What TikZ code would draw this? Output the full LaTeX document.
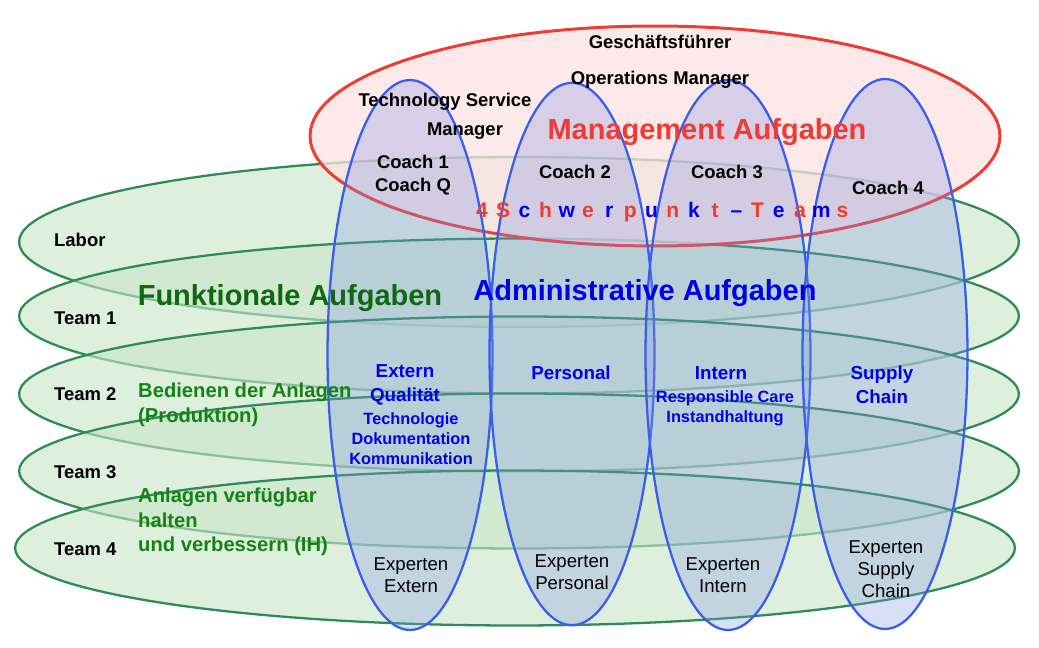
\documentclass[tikz,border=0pt]{standalone}
\usepackage{fontspec}
\setmainfont{Liberation Sans}
\usetikzlibrary{shapes.geometric}
\definecolor{teamgreen}{RGB}{46,139,87}
\definecolor{teamfill}{RGB}{200,228,200}
\definecolor{mgmtred}{RGB}{238,60,50}
\definecolor{mgmtfill}{RGB}{253,225,225}
\definecolor{focusblue}{RGB}{55,95,235}
\definecolor{focusfill}{RGB}{130,150,230}
\definecolor{textgreen}{RGB}{20,130,20}
\definecolor{textblue}{RGB}{0,0,235}
\tikzset{
  team/.style={ellipse, draw=teamgreen, line width=1.3pt, fill=teamfill, fill opacity=0.6, minimum width=20cm, minimum height=3.1cm},
  mgmt/.style={ellipse, draw=mgmtred, line width=1.7pt, fill=mgmtfill, fill opacity=0.75, minimum width=13.8cm, minimum height=4.4cm},
  focus/.style={ellipse, draw=focusblue, line width=1.3pt, fill=focusfill, fill opacity=0.3, minimum width=3.3cm, minimum height=11cm},
  lbl/.style={font=\bfseries\fontsize{10.5}{12}\selectfont, align=center},
  side/.style={font=\bfseries\fontsize{10.5}{12}\selectfont, anchor=west},
  sub/.style={font=\bfseries\fontsize{11.5}{14}\selectfont, text=textgreen, anchor=west, align=left},
  task/.style={font=\bfseries\fontsize{10.7}{13.5}\selectfont, text=textblue, align=center},
  small/.style={font=\bfseries\fontsize{9.3}{11.3}\selectfont, text=textblue, align=center},
  expert/.style={font=\fontsize{10.6}{12.7}\selectfont, align=center},
  big/.style={font=\bfseries\fontsize{16.5}{18}\selectfont}
}
\begin{document}
\begin{tikzpicture}[x=0.02cm, y=-0.02cm]
\useasboundingbox (0,0) rectangle (1039,648);
% team layers
\node (labor) [team, minimum height=3.4cm] at (519,242) {};
\node (team1) [team] at (519,316) {};
\node (team2) [team] at (519,394) {};
\node (team3) [team] at (519,471) {};
\node (team4) [team] at (515,548) {};
% management
\node (mgmt) [mgmt] at (655,136) {};
% focus teams
\node (focus1) [focus] at (410,355) {};
\node (focus2) [focus, minimum height=10.85cm] at (572,354) {};
\node (focus3) [focus] at (728,355) {};
\node (focus4) [focus] at (885,354) {};
% labels
\node (gf) [lbl] at (660,42) {Geschäftsführer};
\node (om) [lbl] at (660,80) {Operations Manager};
\node (tsm) [lbl] at (445,102) {Technology Service};
\node (tsm2) [lbl] at (465,131) {Manager};
\node (mtitle) [big, text=mgmtred] at (707,132) {Management Aufgaben};
\node (coach1) [lbl, font=\bfseries\fontsize{10.5}{13.5}\selectfont] at (413,175) {Coach 1\\Coach Q};
\node (coach2) [lbl] at (575,172) {Coach 2};
\node (coach3) [lbl] at (727,172) {Coach 3};
\node (coach4) [lbl] at (888,188) {Coach 4};
\foreach \c/\col [count=\i] in {4/mgmtred,S/mgmtred,c/textblue,h/mgmtred,w/textblue,e/mgmtred,r/textblue,p/mgmtred,u/textblue,n/mgmtred,k/textblue,t/mgmtred,–/textblue,T/mgmtred,e/textblue,a/mgmtred,m/textblue,s/mgmtred}
  \node (sp\i) [font=\bfseries\fontsize{12}{14}\selectfont, text=\col, inner sep=0pt, anchor=base] at (482+\i*21.2-21.2,218) {\c};
\node (labor-t) [side] at (48,240) {Labor};
\node (team1-t) [side] at (48,318) {Team 1};
\node (team2-t) [side] at (48,394) {Team 2};
\node (team3-t) [side] at (48,472) {Team 3};
\node (team4-t) [side] at (48,549) {Team 4};
\node (funk) [big, text=textgreen!80!black] at (290,298) {Funktionale Aufgaben};
\node (admin) [big, text=textblue] at (645,293) {Administrative Aufgaben};
\node (bedienen) [sub] at (132,405) {Bedienen der Anlagen\\(Produktion)};
\node (anlagen) [sub] at (132,522) {Anlagen verfügbar\\halten\\und verbessern (IH)};
\node (extern) [task] at (405,385) {Extern\\Qualität};
\node (extern2) [small] at (411,439) {Technologie\\Dokumentation\\Kommunikation};
\node (personal) [task] at (571,373) {Personal};
\node (intern) [task] at (721,373) {Intern};
\node (intern2) [small] at (725,408) {Responsible Care\\Instandhaltung};
\node (supply) [task] at (882,385) {Supply\\Chain};
\node (exp1) [expert] at (411,575) {Experten\\Extern};
\node (exp2) [expert] at (572,572) {Experten\\Personal};
\node (exp3) [expert] at (723,575) {Experten\\Intern};
\node (exp4) [expert] at (886,569) {Experten\\Supply\\Chain};
\end{tikzpicture}
\end{document}
